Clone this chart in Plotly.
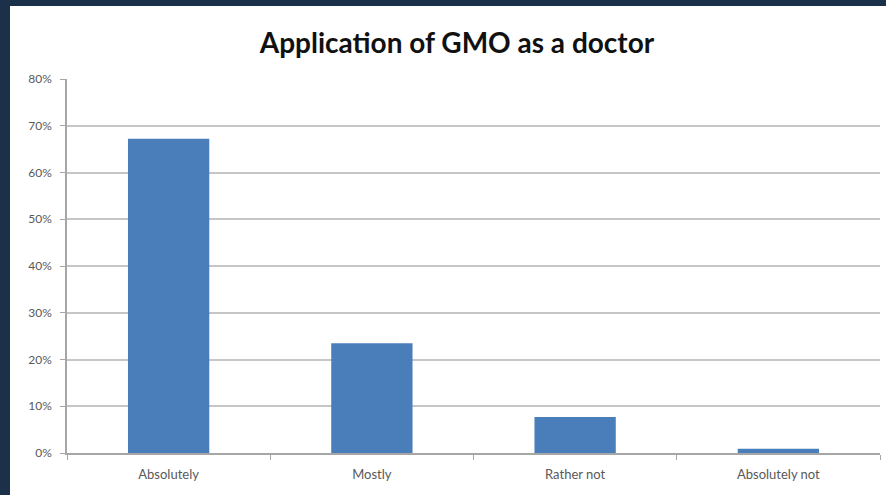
import plotly.graph_objects as go

categories = ["Absolutely", "Mostly", "Rather not", "Absolutely not"]
shares = [0.672, 0.235, 0.077, 0.009]
y_ticks = [0, 0.1, 0.2, 0.3, 0.4, 0.5, 0.6, 0.7, 0.8]
y_tick_labels = ["0%", "10%", "20%", "30%", "40%", "50%", "60%", "70%", "80%"]

W, H = 886, 495
ML, MR, MT, MB = 67, 6, 79, 42
PW, PH = W - ML - MR, H - MT - MB
FRAME = "#1b3049"

fig = go.Figure(
    go.Bar(
        x=categories,
        y=shares,
        width=0.4,
        marker=dict(color="#4a7ebb", line=dict(width=0)),
    )
)

# dark frame along the left and top edges of the page
def px_x(p):
    return (p - ML) / PW

def px_y(p):
    return 1 + (MT - p) / PH

fig.add_shape(type="rect", xref="paper", yref="paper",
              x0=px_x(0), x1=px_x(10), y0=px_y(H), y1=px_y(0),
              fillcolor=FRAME, line=dict(width=0))
fig.add_shape(type="rect", xref="paper", yref="paper",
              x0=px_x(0), x1=px_x(W), y0=px_y(6), y1=px_y(0),
              fillcolor=FRAME, line=dict(width=0))

fig.update_layout(
    width=W,
    height=H,
    margin=dict(l=ML, r=MR, t=MT, b=MB),
    paper_bgcolor="white",
    plot_bgcolor="white",
    showlegend=False,
    title=dict(
        text="<b>Application of GMO as a doctor</b>",
        x=457 / W,
        xanchor="center",
        y=1 - 43 / H,
        yanchor="middle",
        font=dict(family="Lato, Carlito, sans-serif", size=28, color="#111111"),
    ),
    font=dict(family="Lato, Carlito, sans-serif", size=12, color="#595959"),
)

fig.update_xaxes(
    type="category",
    range=[-0.5, 3.5],
    showline=True,
    linecolor="#a6a6a6",
    linewidth=1.5,
    ticks="outside",
    tickson="boundaries",
    ticklen=5,
    tickcolor="#a6a6a6",
    ticklabelstandoff=9,
    tickfont=dict(size=13, color="#595959"),
    showgrid=False,
)

fig.update_yaxes(
    range=[0, 0.8],
    tickvals=y_ticks,
    ticktext=y_tick_labels,
    showline=True,
    linecolor="#a6a6a6",
    linewidth=1.5,
    ticks="outside",
    ticklen=5,
    tickcolor="#a6a6a6",
    ticklabelstandoff=6,
    showgrid=True,
    gridcolor="#c6c6c6",
    gridwidth=1.5,
    zeroline=False,
    tickfont=dict(size=12, color="#595959"),
)

fig.write_html("out.html")
